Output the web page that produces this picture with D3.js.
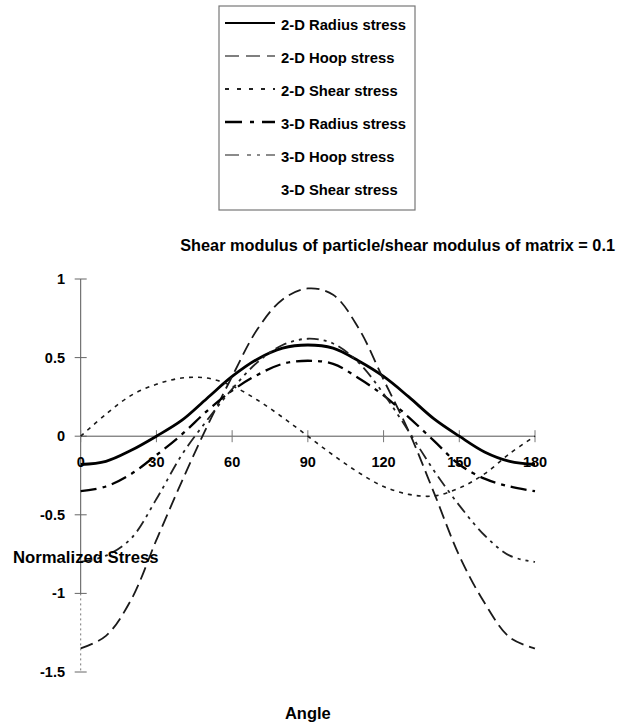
<!DOCTYPE html>
<html>
<head>
<meta charset="utf-8">
<script src="https://cdn.jsdelivr.net/npm/d3@7"></script>
<style>
  body { margin: 0; background: #fff; }
  svg { display: block; font-family: "Liberation Sans", Arial, sans-serif; }
</style>
</head>
<body>
<div class="chart"></div>
<script>
const angles = [0, 10, 20, 30, 40, 50, 60, 70, 80, 90, 100, 110, 120, 130, 140, 150, 160, 170, 180];
const radius2D = [-0.18, -0.16, -0.09, 0.0, 0.10, 0.24, 0.38, 0.49, 0.56, 0.58, 0.56, 0.48, 0.38, 0.25, 0.11, 0.0, -0.10, -0.16, -0.18];
const hoop2D = [-1.35, -1.27, -1.04, -0.66, -0.29, 0.06, 0.38, 0.68, 0.87, 0.94, 0.90, 0.69, 0.36, 0.03, -0.36, -0.76, -1.06, -1.28, -1.35];
const shear2D = [0, 0.14, 0.26, 0.33, 0.37, 0.37, 0.32, 0.23, 0.12, 0, -0.12, -0.23, -0.32, -0.37, -0.38, -0.33, -0.24, -0.11, 0];
const radius3D = [-0.35, -0.32, -0.24, -0.12, 0.01, 0.16, 0.29, 0.39, 0.46, 0.48, 0.46, 0.37, 0.26, 0.12, -0.03, -0.18, -0.27, -0.32, -0.35];
const hoop3D = [-0.80, -0.76, -0.65, -0.40, -0.12, 0.10, 0.30, 0.47, 0.58, 0.62, 0.59, 0.47, 0.27, 0.03, -0.22, -0.44, -0.63, -0.76, -0.80];

const xTicks = [0, 30, 60, 90, 120, 150, 180];
const yTicks = [1, 0.5, 0, -0.5, -1, -1.5];
const legendNames = ["2-D Radius stress", "2-D Hoop stress", "2-D Shear stress", "3-D Radius stress", "3-D Hoop stress", "3-D Shear stress"];

const w = 629, h = 726;

const series = [
  { name: legendNames[0], values: radius2D, color: "#000", width: 2.8, dash: null },
  { name: legendNames[1], values: hoop2D, color: "#1a1a1a", width: 1.8, dash: "13,6" },
  { name: legendNames[2], values: shear2D, color: "#1a1a1a", width: 1.6, dash: "4,5" },
  { name: legendNames[3], values: radius3D, color: "#000", width: 2.3, dash: "16,6,4,6" },
  { name: legendNames[4], values: hoop3D, color: "#222", width: 1.8, dash: "12,5,3,5,3,5" }
];

const xScale = d3.scaleLinear().domain([0, 180]).range([80.7, 535]);
const yScale = d3.scaleLinear().domain([-1.5, 1]).range([672, 279]);

const svg = d3.select(".chart").append("svg")
  .attr("width", w)
  .attr("height", h);

// legend
const legend = svg.append("g");
legend.append("rect")
  .attr("x", 219).attr("y", 6)
  .attr("width", 196).attr("height", 204)
  .attr("fill", "#fff")
  .attr("stroke", "#777")
  .attr("stroke-width", 1.2);

const legendSamples = [
  { color: "#000", width: 2, dash: null },
  { color: "#555", width: 1.5, dash: "14,7" },
  { color: "#222", width: 1.8, dash: "4,8" },
  { color: "#000", width: 2.4, dash: "17,8,4,8" },
  { color: "#666", width: 1.6, dash: "14,8,4,6,3,6" },
  { color: "#fff", width: 1.5, dash: null }
];

legendNames.forEach((name, i) => {
  const cy = 23 + i * 33;
  legend.append("line")
    .attr("x1", 225).attr("x2", 275)
    .attr("y1", cy).attr("y2", cy)
    .attr("stroke", legendSamples[i].color)
    .attr("stroke-width", legendSamples[i].width)
    .attr("stroke-dasharray", legendSamples[i].dash);
  legend.append("text")
    .attr("x", 281).attr("y", cy + 7)
    .attr("font-size", 14.8)
    .attr("font-weight", "bold")
    .text(name);
});

// title
svg.append("text")
  .attr("x", 615).attr("y", 251)
  .attr("text-anchor", "end")
  .attr("font-size", 16.3)
  .attr("font-weight", "bold")
  .text("Shear modulus of particle/shear modulus of matrix = 0.1");

// y axis (dotted below -1 as in the original)
svg.append("line")
  .attr("x1", xScale(0)).attr("x2", xScale(0))
  .attr("y1", yScale(1)).attr("y2", yScale(-1))
  .attr("stroke", "#555").attr("stroke-width", 1);
svg.append("line")
  .attr("x1", xScale(0)).attr("x2", xScale(0))
  .attr("y1", yScale(-1)).attr("y2", yScale(-1.5))
  .attr("stroke", "#777").attr("stroke-width", 1)
  .attr("stroke-dasharray", "2,3");
yTicks.forEach(t => {
  svg.append("line")
    .attr("x1", xScale(0) - 6).attr("x2", xScale(0) + 6)
    .attr("y1", yScale(t)).attr("y2", yScale(t))
    .attr("stroke", "#666").attr("stroke-width", 1);
  svg.append("text")
    .attr("x", 65).attr("y", yScale(t) + 5)
    .attr("text-anchor", "end")
    .attr("font-size", 14.5)
    .attr("font-weight", "bold")
    .text(t);
});

// x axis at zero
svg.append("line")
  .attr("x1", xScale(0)).attr("x2", xScale(180))
  .attr("y1", yScale(0)).attr("y2", yScale(0))
  .attr("stroke", "#555").attr("stroke-width", 1);
xTicks.forEach(t => {
  svg.append("line")
    .attr("x1", xScale(t)).attr("x2", xScale(t))
    .attr("y1", yScale(0) - 6).attr("y2", yScale(0) + 6)
    .attr("stroke", "#777").attr("stroke-width", 1);
  svg.append("text")
    .attr("x", xScale(t)).attr("y", yScale(0) + 31)
    .attr("text-anchor", "middle")
    .attr("font-size", 14.5)
    .attr("font-weight", "bold")
    .text(t);
});

// curves
const line = d3.line()
  .x((d, i) => xScale(angles[i]))
  .y(d => yScale(d))
  .curve(d3.curveCatmullRom);

svg.selectAll("path.curve")
  .data(series)
  .enter()
  .append("path")
  .attr("class", "curve")
  .attr("d", d => line(d.values))
  .attr("fill", "none")
  .attr("stroke", d => d.color)
  .attr("stroke-width", d => d.width)
  .attr("stroke-dasharray", d => d.dash);

// axis titles
svg.append("text")
  .attr("x", 13).attr("y", 563)
  .attr("font-size", 16.7)
  .attr("font-weight", "bold")
  .text("Normalized Stress");

svg.append("text")
  .attr("x", xScale(90)).attr("y", 719)
  .attr("text-anchor", "middle")
  .attr("font-size", 16.5)
  .attr("font-weight", "bold")
  .text("Angle");
</script>
</body>
</html>
